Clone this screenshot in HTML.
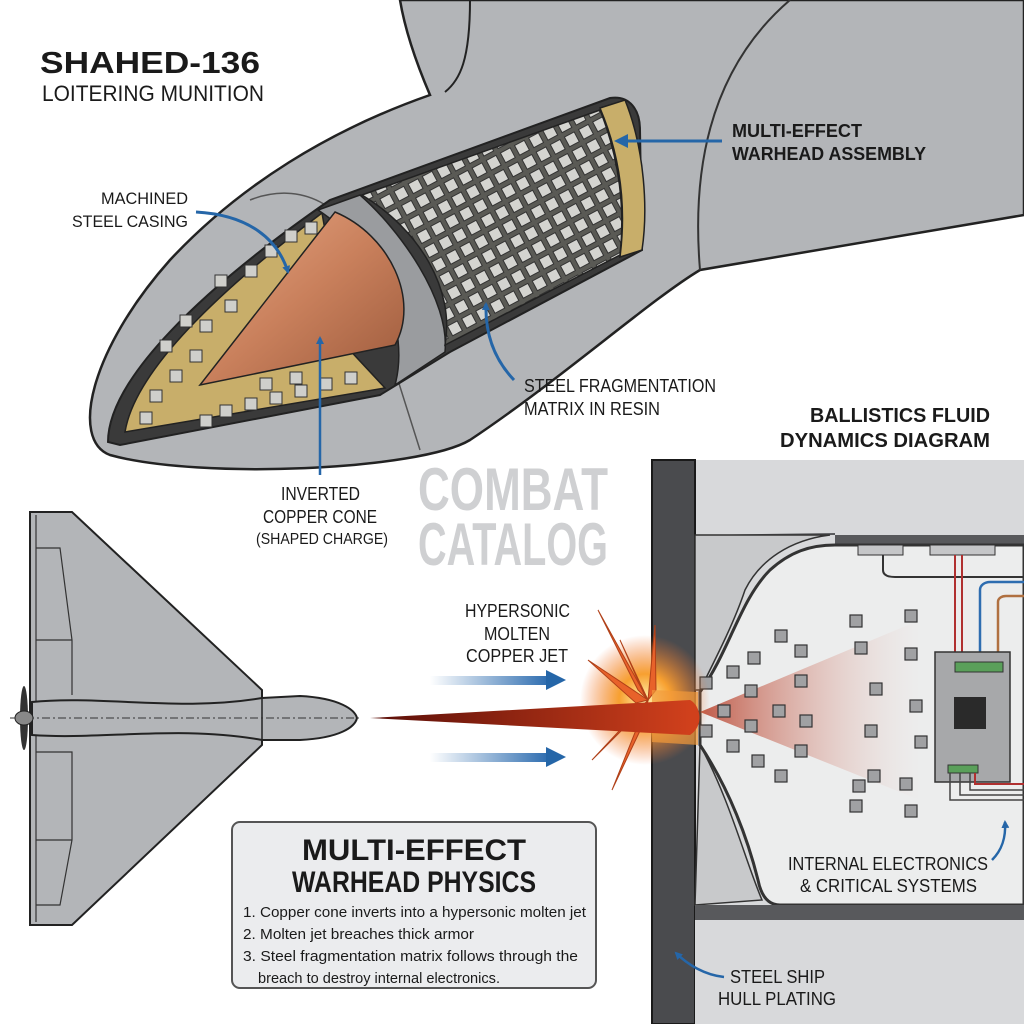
<!DOCTYPE html>
<html><head><meta charset="utf-8"><style>
html,body{margin:0;padding:0;background:#fff}
svg{display:block}
text{font-family:"Liberation Sans",sans-serif;fill:#1a1a1a}
</style></head><body>
<svg width="1024" height="1024" viewBox="0 0 1024 1024" xmlns="http://www.w3.org/2000/svg">
<defs>
<linearGradient id="cu" x1="0" y1="0" x2="1" y2="1"><stop offset="0" stop-color="#e8a886"/><stop offset="0.5" stop-color="#c9805c"/><stop offset="1" stop-color="#9c5a3c"/></linearGradient>
<linearGradient id="jet" x1="0" x2="1"><stop offset="0" stop-color="#5a0e08"/><stop offset="1" stop-color="#d0401c"/></linearGradient>
<linearGradient id="bl" x1="0" x2="1"><stop offset="0" stop-color="#2e6db0" stop-opacity="0"/><stop offset="1" stop-color="#2e6db0"/></linearGradient>
<linearGradient id="spray" x1="0" x2="1"><stop offset="0" stop-color="#b8402a" stop-opacity="0.85"/><stop offset="1" stop-color="#e8c0b8" stop-opacity="0"/></linearGradient>
<radialGradient id="boom"><stop offset="0" stop-color="#fff4b0"/><stop offset="0.4" stop-color="#f7a030"/><stop offset="1" stop-color="#f07030" stop-opacity="0"/></radialGradient>
<pattern id="cubes" width="16" height="16" patternUnits="userSpaceOnUse" patternTransform="rotate(-28)"><rect width="16" height="16" fill="#5a5a55"/><rect x="2" y="2" width="11" height="11" fill="#d4d4d0" stroke="#333" stroke-width="1"/></pattern>
<marker id="ah" markerWidth="8" markerHeight="8" refX="6" refY="4" orient="auto" markerUnits="userSpaceOnUse"><path d="M0,0 L8,4 L0,8 Z" fill="#2566a8"/></marker>
<marker id="ah2" markerWidth="14" markerHeight="14" refX="10" refY="7" orient="auto" markerUnits="userSpaceOnUse"><path d="M0,0 L14,7 L0,14 Z" fill="#2566a8"/></marker>
</defs>

<path d="M400,0 L1024,0 L1024,215 L700,270 C650,300 560,380 470,440 C420,470 200,480 110,455 C70,440 90,350 170,260 C240,185 330,130 430,95 C415,60 405,30 400,0 Z" fill="#b3b5b8" stroke="#222" stroke-width="2.5"/>
<path d="M470,0 C470,60 460,80 445,92" fill="none" stroke="#222" stroke-width="2"/>
<path d="M790,0 C720,60 690,150 700,270" fill="none" stroke="#333" stroke-width="2"/>
<path d="M250,200 C300,180 350,205 360,260 L420,450" fill="none" stroke="#555" stroke-width="1.5"/>
<path d="M108,442 C108,380 200,290 330,200 L610,98 C630,95 640,110 640,130 L642,250 L450,352 L380,395 L120,445 Z" fill="#3a3a3a" stroke="#222" stroke-width="2"/>
<path d="M125,432 C135,370 220,290 322,213 L345,345 L385,388 Z" fill="#c8ae6a" stroke="#222" stroke-width="1.5"/>
<g fill="#cfcfcb" stroke="#333" stroke-width="1">
<rect x="150" y="390" width="12" height="12"/><rect x="170" y="370" width="12" height="12"/><rect x="190" y="350" width="12" height="12"/><rect x="160" y="340" width="12" height="12"/><rect x="200" y="320" width="12" height="12"/><rect x="225" y="300" width="12" height="12"/><rect x="215" y="275" width="12" height="12"/><rect x="245" y="265" width="12" height="12"/><rect x="265" y="245" width="12" height="12"/><rect x="285" y="230" width="12" height="12"/><rect x="305" y="222" width="12" height="12"/><rect x="180" y="315" width="12" height="12"/><rect x="140" y="412" width="12" height="12"/>
<rect x="220" y="405" width="12" height="12"/><rect x="245" y="398" width="12" height="12"/><rect x="270" y="392" width="12" height="12"/><rect x="295" y="385" width="12" height="12"/><rect x="320" y="378" width="12" height="12"/><rect x="345" y="372" width="12" height="12"/><rect x="200" y="415" width="12" height="12"/><rect x="260" y="378" width="12" height="12"/><rect x="290" y="372" width="12" height="12"/>
</g>
<path d="M318,210 L360,195 C400,230 450,300 445,352 L395,385 C410,330 380,250 318,210 Z" fill="#9a9c9f" stroke="#222" stroke-width="1.5"/>
<path d="M200,385 L335,212 C390,235 420,300 395,345 Z" fill="url(#cu)" stroke="#222" stroke-width="1.5"/>
<path d="M362,195 L600,110 C620,160 625,210 620,255 L445,345 C455,290 420,230 362,195 Z" fill="url(#cubes)" stroke="#222" stroke-width="1.5"/>
<path d="M600,108 L625,100 C645,150 648,210 642,250 L620,257 C626,210 622,160 600,108 Z" fill="#c8ae6a" stroke="#222" stroke-width="1.5"/>

<text x="40" y="73" style="font-weight:bold;font-size:31px" textLength="220" lengthAdjust="spacingAndGlyphs">SHAHED-136</text>
<text x="42" y="101" style="font-size:22px" textLength="222" lengthAdjust="spacingAndGlyphs">LOITERING MUNITION</text>
<text x="101" y="204" style="font-size:17px" textLength="87" lengthAdjust="spacingAndGlyphs">MACHINED</text>
<text x="72" y="227" style="font-size:17px" textLength="116" lengthAdjust="spacingAndGlyphs">STEEL CASING</text>
<path d="M196,212 C250,215 278,240 288,272" fill="none" stroke="#2566a8" stroke-width="3" marker-end="url(#ah)"/>
<text x="732" y="137" style="font-weight:bold;font-size:18px" textLength="130" lengthAdjust="spacingAndGlyphs">MULTI-EFFECT</text>
<text x="732" y="160" style="font-weight:bold;font-size:18px" textLength="194" lengthAdjust="spacingAndGlyphs">WARHEAD ASSEMBLY</text>
<path d="M722,141 L618,141" fill="none" stroke="#2566a8" stroke-width="3" marker-end="url(#ah2)"/>
<text x="524" y="392" style="font-size:18px" textLength="192" lengthAdjust="spacingAndGlyphs">STEEL FRAGMENTATION</text>
<text x="524" y="415" style="font-size:18px" textLength="136" lengthAdjust="spacingAndGlyphs">MATRIX IN RESIN</text>
<path d="M514,380 C495,360 485,335 486,304" fill="none" stroke="#2566a8" stroke-width="3" marker-end="url(#ah)"/>
<path d="M320,475 L320,338" fill="none" stroke="#2566a8" stroke-width="2.5" marker-end="url(#ah)"/>
<text x="281" y="500" style="font-size:18px" textLength="79" lengthAdjust="spacingAndGlyphs">INVERTED</text>
<text x="263" y="523" style="font-size:18px" textLength="114" lengthAdjust="spacingAndGlyphs">COPPER CONE</text>
<text x="256" y="544" style="font-size:16px" textLength="132" lengthAdjust="spacingAndGlyphs">(SHAPED CHARGE)</text>

<text x="418" y="510" style="font-weight:bold;font-size:60px;fill:#cfd0d2" textLength="190" lengthAdjust="spacingAndGlyphs">COMBAT</text>
<text x="418" y="565" style="font-weight:bold;font-size:60px;fill:#cfd0d2" textLength="190" lengthAdjust="spacingAndGlyphs">CATALOG</text>

<text x="810" y="422" style="font-weight:bold;font-size:20px" textLength="180" lengthAdjust="spacingAndGlyphs">BALLISTICS FLUID</text>
<text x="780" y="447" style="font-weight:bold;font-size:20px" textLength="210" lengthAdjust="spacingAndGlyphs">DYNAMICS DIAGRAM</text>

<path d="M30,512 L72,512 L262,690 L262,745 L72,925 L30,925 Z" fill="#b3b5b8" stroke="#222" stroke-width="2"/>
<path d="M36,548 L60,548 L72,640 L72,695 M36,640 L72,640 M36,752 L72,752 L72,840 L60,905 L36,905 M36,840 L72,840" fill="none" stroke="#333" stroke-width="1.2"/>
<path d="M36,515 L36,922" stroke="#333" stroke-width="1.2"/>
<path d="M32,702 C100,695 180,712 262,698 L300,696 C340,698 355,710 357,718 C355,727 340,738 300,740 L262,740 C180,725 100,740 32,735 Z" fill="#b3b5b8" stroke="#222" stroke-width="2"/>
<line x1="262" y1="698" x2="262" y2="740" stroke="#222" stroke-width="1.5"/>
<line x1="10" y1="718" x2="360" y2="718" stroke="#333" stroke-width="1" stroke-dasharray="8,3,2,3"/>
<ellipse cx="24" cy="718" rx="4" ry="32" fill="#333"/><ellipse cx="24" cy="718" rx="9" ry="7" fill="#888" stroke="#222"/>

<rect x="652" y="460" width="372" height="564" fill="#d8d9db"/>
<path d="M652,460 L695,460 L695,1024 L652,1024 Z" fill="#4a4b4e" stroke="#1a1a1a" stroke-width="2"/>
<path d="M695,535 L1024,535 L1024,545 L835,545 L835,533 Z" fill="#58595c"/>
<path d="M695,535 L830,535 C790,540 760,560 745,590 C735,620 720,650 700,690 L695,690 Z" fill="#c8c9cb" stroke="#333" stroke-width="1.5"/>
<path d="M700,745 C730,800 745,860 762,900 L695,905 Z" fill="#c8c9cb" stroke="#333" stroke-width="1.5"/>
<path d="M835,545 L1024,545 L1024,905 L780,905 C765,905 760,890 758,880 C748,840 730,790 700,745 L700,692 C730,650 740,600 770,570 C790,552 810,545 835,545 Z" fill="#eceded" stroke="#333" stroke-width="3"/>
<rect x="695" y="905" width="329" height="15" fill="#58595c"/>
<rect x="695" y="920" width="329" height="104" fill="#d8d9db"/>
<rect x="858" y="545" width="45" height="10" fill="#c5c6c8" stroke="#333"/><rect x="930" y="545" width="65" height="10" fill="#c5c6c8" stroke="#333"/>
<path d="M883,555 L883,570 C883,575 888,577 895,577 L1024,577" fill="none" stroke="#333" stroke-width="2"/>
<path d="M955,555 L955,660 M962,555 L962,660" stroke="#b03030" stroke-width="2"/>
<path d="M980,660 L980,590 C980,585 985,582 990,582 L1024,582" fill="none" stroke="#2e6db0" stroke-width="2.5"/>
<path d="M998,660 L998,602 C998,598 1002,596 1006,596 L1024,596" fill="none" stroke="#b07040" stroke-width="2.5"/>
<path d="M700,712 L920,620 L920,800 Z" fill="url(#spray)"/>
<rect x="935" y="652" width="75" height="130" fill="#a7a8aa" stroke="#333" stroke-width="1.5"/>
<rect x="955" y="662" width="48" height="10" fill="#5aa05a" stroke="#333"/>
<rect x="948" y="765" width="30" height="8" fill="#5aa05a" stroke="#333"/>
<rect x="954" y="697" width="32" height="32" fill="#2a2a2a"/>
<path d="M950,773 L950,800 L1024,800 M960,773 L960,795 L1024,795 M970,773 L970,790 L1024,790" fill="none" stroke="#444" stroke-width="1.5"/>
<path d="M975,773 L975,784 L1024,784" fill="none" stroke="#b03030" stroke-width="2"/>
<g fill="#a0a1a3" stroke="#333" stroke-width="1.2">
<rect x="700" y="677" width="12" height="12"/><rect x="718" y="705" width="12" height="12"/><rect x="700" y="725" width="12" height="12"/><rect x="727" y="666" width="12" height="12"/><rect x="748" y="652" width="12" height="12"/><rect x="745" y="685" width="12" height="12"/><rect x="745" y="720" width="12" height="12"/><rect x="727" y="740" width="12" height="12"/><rect x="752" y="755" width="12" height="12"/><rect x="775" y="630" width="12" height="12"/><rect x="773" y="705" width="12" height="12"/><rect x="795" y="645" width="12" height="12"/><rect x="795" y="675" width="12" height="12"/><rect x="800" y="715" width="12" height="12"/><rect x="795" y="745" width="12" height="12"/><rect x="775" y="770" width="12" height="12"/><rect x="850" y="615" width="12" height="12"/><rect x="855" y="642" width="12" height="12"/><rect x="870" y="683" width="12" height="12"/><rect x="865" y="725" width="12" height="12"/><rect x="868" y="770" width="12" height="12"/><rect x="853" y="780" width="12" height="12"/><rect x="905" y="610" width="12" height="12"/><rect x="905" y="648" width="12" height="12"/><rect x="910" y="700" width="12" height="12"/><rect x="915" y="736" width="12" height="12"/><rect x="900" y="778" width="12" height="12"/><rect x="905" y="805" width="12" height="12"/><rect x="850" y="800" width="12" height="12"/></g>
<text x="788" y="870" style="font-size:18px" textLength="200" lengthAdjust="spacingAndGlyphs">INTERNAL ELECTRONICS</text>
<text x="800" y="892" style="font-size:18px" textLength="177" lengthAdjust="spacingAndGlyphs">&amp; CRITICAL SYSTEMS</text>
<path d="M992,860 C1002,850 1006,838 1005,822" fill="none" stroke="#2566a8" stroke-width="2.5" marker-end="url(#ah)"/>
<text x="730" y="983" style="font-size:18px" textLength="95" lengthAdjust="spacingAndGlyphs">STEEL SHIP</text>
<text x="718" y="1005" style="font-size:18px" textLength="118" lengthAdjust="spacingAndGlyphs">HULL PLATING</text>
<path d="M724,977 C705,975 688,965 676,953" fill="none" stroke="#2566a8" stroke-width="2.5" marker-end="url(#ah)"/>

<circle cx="645" cy="700" r="65" fill="url(#boom)"/>
<g fill="#e8622a" stroke="#b04018" stroke-width="1">
<path d="M648,700 L598,610 L638,690 Z"/><path d="M648,700 L588,660 L636,703 Z"/><path d="M648,700 L592,760 L640,712 Z"/><path d="M648,700 L612,790 L646,718 Z"/><path d="M648,700 L655,625 L656,690 Z"/><path d="M648,700 L620,640 L644,694 Z"/></g>
<path d="M652,690 L698,692 L698,745 L652,742 Z" fill="#f29a3a" opacity="0.7"/>
<path d="M370,718 L690,700 L690,735 Z" fill="url(#jet)"/>
<path d="M690,700 C700,705 705,725 690,735 Z" fill="#d0401c"/>
<rect x="430" y="676" width="118" height="9" fill="url(#bl)"/><path d="M546,670 L566,680 L546,690 Z" fill="#2566a8"/>
<rect x="430" y="753" width="118" height="9" fill="url(#bl)"/><path d="M546,747 L566,757 L546,767 Z" fill="#2566a8"/>
<text x="465" y="617" style="font-size:18px" textLength="105" lengthAdjust="spacingAndGlyphs">HYPERSONIC</text>
<text x="484" y="640" style="font-size:18px" textLength="66" lengthAdjust="spacingAndGlyphs">MOLTEN</text>
<text x="466" y="662" style="font-size:18px" textLength="102" lengthAdjust="spacingAndGlyphs">COPPER JET</text>

<rect x="232" y="822" width="364" height="166" rx="8" fill="#ebecee" stroke="#555" stroke-width="2"/>
<text x="414" y="860" text-anchor="middle" style="font-weight:bold;font-size:30px" textLength="224" lengthAdjust="spacingAndGlyphs">MULTI-EFFECT</text>
<text x="414" y="892" text-anchor="middle" style="font-weight:bold;font-size:30px" textLength="244" lengthAdjust="spacingAndGlyphs">WARHEAD PHYSICS</text>
<text x="243" y="917" style="font-size:15px" textLength="343" lengthAdjust="spacingAndGlyphs">1. Copper cone inverts into a hypersonic molten jet</text>
<text x="243" y="939" style="font-size:15px" textLength="231" lengthAdjust="spacingAndGlyphs">2. Molten jet breaches thick armor</text>
<text x="243" y="961" style="font-size:15px" textLength="335" lengthAdjust="spacingAndGlyphs">3. Steel fragmentation matrix follows through the</text>
<text x="258" y="983" style="font-size:15px" textLength="242" lengthAdjust="spacingAndGlyphs">breach to destroy internal electronics.</text>
</svg>
</body></html>
